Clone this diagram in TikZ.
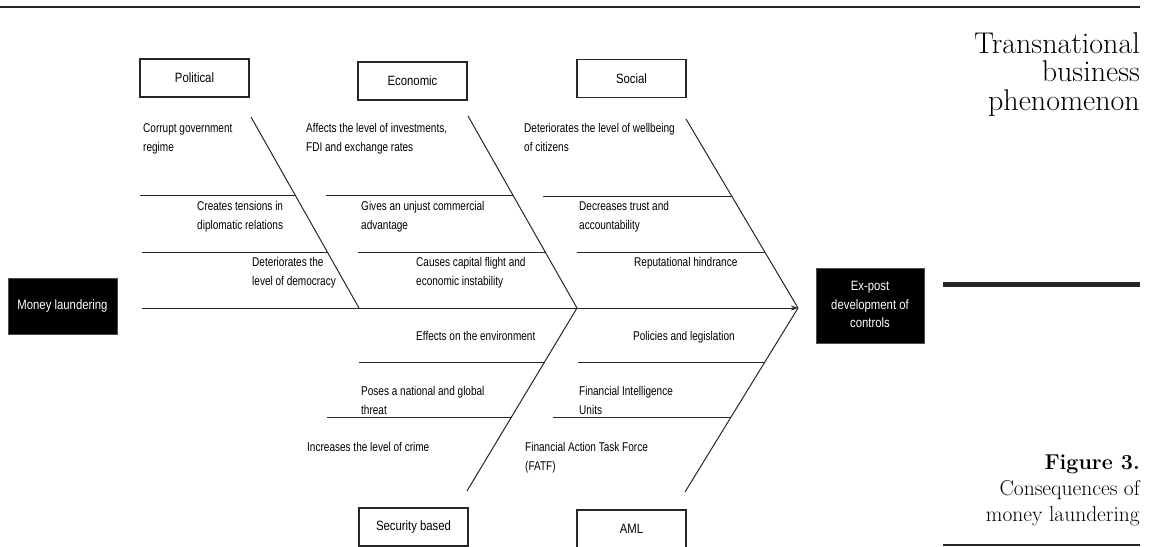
\documentclass[tikz,border=0pt]{standalone}
\usepackage{fontspec}
\newfontfamily\dfont[FakeStretch=0.79]{Liberation Sans}
\newfontfamily\bfont[FakeStretch=0.84]{Liberation Sans}
\usetikzlibrary{arrows.meta}
\tikzset{
  bone/.style={line width=1pt, draw=black!85},
  rib/.style={line width=1pt, draw=black!85},
  lbl/.style={anchor=base west, inner sep=0pt, align=left, font=\dfont\fontsize{12.7}{19}\selectfont},
  catbox/.style={draw=black!85, line width=1.1pt, minimum width=109pt, minimum height=38pt, inner sep=0pt, font=\bfont\fontsize{13.5}{18.5}\selectfont},
  blackbox/.style={fill=black, draw=black!70, line width=0.8pt, text=white, inner sep=0pt, align=center, font=\bfont\fontsize{13.5}{18.5}\selectfont},
  sidetext/.style={anchor=base east, inner sep=0pt, align=right}
}
\begin{document}
\begin{tikzpicture}[x=1pt,y=-1pt]
\useasboundingbox (0,0) rectangle (1153,546);
% rules
\coordinate (topL) at (0,7); \coordinate (topR) at (1140,7);
\draw[line width=1.2pt, black!85] (topL) -- (topR);
\coordinate (thL) at (943,284); \coordinate (thR) at (1140,284);
\draw[line width=5pt, black!85] (thL) -- (thR);
\coordinate (botL) at (943,545); \coordinate (botR) at (1140,545);
\draw[line width=1.2pt, black!85] (botL) -- (botR);

% side texts (base = last line)
\node[sidetext, font=\fontsize{30}{28.5}\selectfont] (side) at (1140,110) {Transnational\\business\\phenomenon};
\node[sidetext, font=\bfseries\fontsize{21.5}{26}\selectfont] (fig) at (1140,469) {Figure 3.};
\node[sidetext, font=\fontsize{21.5}{26}\selectfont] (cap) at (1140,521) {Consequences of\\money laundering};

% boxes
\node[blackbox, minimum width=109pt, minimum height=56pt] (ml) at (62.5,306) {\raisebox{-4pt}{Money laundering}};
\node[blackbox, minimum width=108pt, minimum height=75pt] (ex) at (870,305.5) {\raisebox{-4pt}{\begin{tabular}{@{}c@{}}Ex-post\\development of\\controls\end{tabular}}};
\node[catbox] (pol) at (194.5,78) {Political};
\node[catbox] (eco) at (412.5,81) {Economic};
\node[catbox] (soc) at (631.5,78.5) {Social};
\node[catbox] (sec) at (413.5,527) {Security based};
\node[catbox] (aml) at (631.5,529) {AML};

% spine and diagonals
\coordinate (spL) at (142,308);
\coordinate (spR) at (798,308);
\coordinate (pT) at (251,117); \coordinate (pB) at (359,308);
\coordinate (eT) at (468,116); \coordinate (eB) at (577,308);
\coordinate (sT) at (686,119);
\coordinate (sbB) at (467,491);
\coordinate (amB) at (685,492);
\draw[bone, -{Stealth[length=7pt,width=5pt]}] (spL) -- (spR);
\draw[bone] (pT) -- (pB);
\draw[bone] (eT) -- (eB);
\draw[bone] (sT) -- (spR);
\draw[bone] (eB) -- (sbB);
\draw[bone] (spR) -- (amB);

% ribs
\coordinate (p1L) at (140,195); \coordinate (p1R) at (295.1,195);
\coordinate (p2L) at (142,252); \coordinate (p2R) at (327.3,252);
\coordinate (e1L) at (326,195); \coordinate (e1R) at (512.8,195);
\coordinate (e2L) at (358,252); \coordinate (e2R) at (545.2,252);
\coordinate (s1L) at (543,196); \coordinate (s1R) at (731.6,196);
\coordinate (s2L) at (577,252); \coordinate (s2R) at (764.8,252);
\coordinate (b1L) at (359,362); \coordinate (b1R) at (544.5,362);
\coordinate (b2L) at (327,417); \coordinate (b2R) at (511.5,417);
\coordinate (a1L) at (578,362); \coordinate (a1R) at (764.8,362);
\coordinate (a2L) at (553,417); \coordinate (a2R) at (731.1,417);
\foreach \r in {p1,p2,e1,e2,s1,s2,b1,b2,a1,a2}{\draw[rib] (\r L) -- (\r R);}

% labels (base = last line)
\node[lbl] (l1) at (143,151) {Corrupt government\\regime};
\node[lbl] (l2) at (197,229) {Creates tensions in\\diplomatic relations};
\node[lbl] (l3) at (252,285) {Deteriorates the\\level of democracy};
\node[lbl] (l4) at (306,151) {Affects the level of investments,\\FDI and exchange rates};
\node[lbl] (l5) at (361,229) {Gives an unjust commercial\\advantage};
\node[lbl] (l6) at (416,285) {Causes capital flight and\\economic instability};
\node[lbl] (l7) at (524,151) {Deteriorates the level of wellbeing\\of citizens};
\node[lbl] (l8) at (579,229) {Decreases trust and\\accountability};
\node[lbl] (l9) at (634,266) {Reputational hindrance};
\node[lbl] (l10) at (416,340) {Effects on the environment};
\node[lbl] (l11) at (361,414) {Poses a national and global\\threat};
\node[lbl] (l12) at (307,451) {Increases the level of crime};
\node[lbl] (l13) at (633,340) {Policies and legislation};
\node[lbl] (l14) at (579,414) {Financial Intelligence\\Units};
\node[lbl] (l15) at (525,470) {Financial Action Task Force\\(FATF)};
\end{tikzpicture}
\end{document}
